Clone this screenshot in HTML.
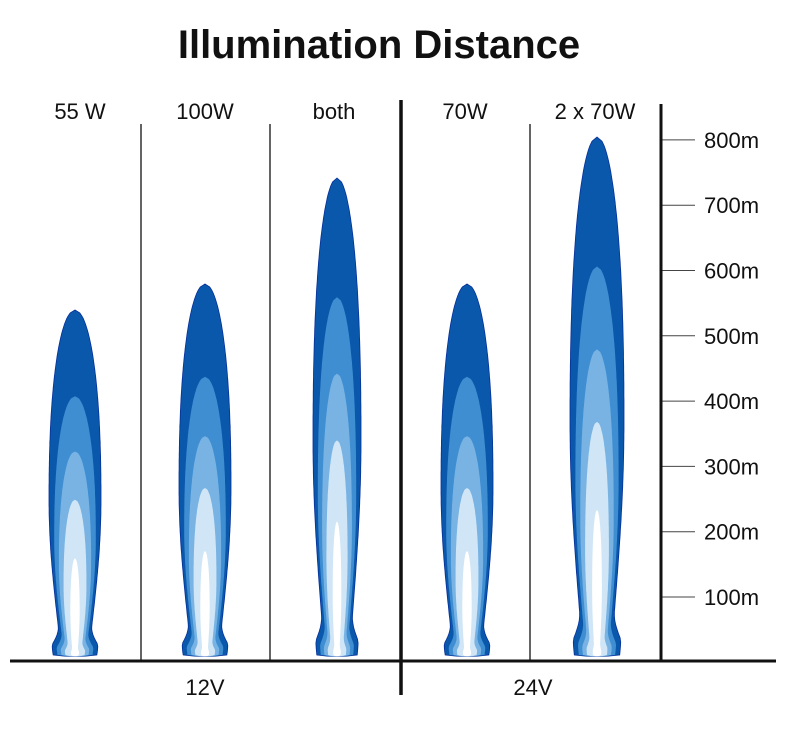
<!DOCTYPE html>
<html><head><style>
html,body{margin:0;padding:0;background:#fff;}
svg{display:block;font-family:"Liberation Sans",sans-serif;}
</style></head><body>
<svg id="s" width="800" height="732" viewBox="0 0 800 732">
<text x="379" y="58" font-size="40" font-weight="bold" text-anchor="middle" fill="#111">Illumination Distance</text>
<g font-size="22" fill="#111" text-anchor="middle">
<text x="80" y="119">55 W</text>
<text x="205" y="119">100W</text>
<text x="334" y="119">both</text>
<text x="465" y="119">70W</text>
<text x="595" y="119">2 x 70W</text>
<text x="205" y="695">12V</text>
<text x="533" y="695">24V</text>
</g>
<g stroke="#111" stroke-width="1.3">
<line x1="141" y1="124" x2="141" y2="661"/>
<line x1="270" y1="124" x2="270" y2="661"/>
<line x1="530" y1="124" x2="530" y2="661"/>
</g>
<g id="flames"></g>
<g id="ticks" stroke="#444" stroke-width="1"></g>
<g id="tl" font-size="22" fill="#111"></g>
<line x1="401" y1="100" x2="401" y2="695" stroke="#111" stroke-width="3.5"/>
<line x1="661" y1="104" x2="661" y2="661" stroke="#111" stroke-width="3"/>
<line x1="10" y1="661" x2="776" y2="661" stroke="#111" stroke-width="3"/>
</svg>
<script>
var NS="http://www.w3.org/2000/svg";
function hw(t){
 if(t<0.03){return 0.42+0.02*Math.sin(t/0.03*Math.PI/2);}
 if(t<0.08){var u=(t-0.03)/0.05;return 0.44-0.12*Math.sin(u*Math.PI/2);}
 if(t<0.45){var u=(t-0.08)/0.37;return 0.32+0.18*Math.sin(u*Math.PI/2);}
 var v=(t-0.45)/0.55;return 0.5*Math.pow(Math.max(0,1-Math.pow(v,2.3)),0.5);
}
function path(cx,bottom,len,W,f,k){
 var L=[],R=[];var N=120;
 for(var i=0;i<=N;i++){var t=i/N;var y=bottom-t*len*f;
  var w=(f<1?k:1)*W*hw(t);
  L.push([cx-w,y]);R.push([cx+w,y]);}
 var d="M"+L[0][0].toFixed(1)+","+(bottom)+" ";
 for(var i=0;i<=N;i++)d+="L"+L[i][0].toFixed(1)+","+L[i][1].toFixed(1)+" ";
 for(var i=N;i>=0;i--)d+="L"+R[i][0].toFixed(1)+","+R[i][1].toFixed(1)+" ";
 d+="Q"+cx+","+(bottom+3)+" "+L[0][0].toFixed(1)+","+bottom+"Z";
 return d;
}
var cols=["#0a58ab","#3f8ed2","#78b3e4","#d0e6f6","#ffffff"];
var layers=[[1,1],[0.75,0.8],[0.59,0.62],[0.45,0.44],[0.28,0.18]];
var flames=[[75,310,52],[205,284,52],[337,178,48],[467,284,52],[597,137,54]];
var g=document.getElementById("flames");
flames.forEach(function(fl){
 var bottom=655,len=bottom-fl[1];
 layers.forEach(function(l,i){
  var p=document.createElementNS(NS,"path");
  p.setAttribute("d",path(fl[0],bottom,len,fl[2],l[0],l[1]));
  p.setAttribute("fill",cols[i]);
  if(i==0){p.setAttribute("stroke","#06309a");p.setAttribute("stroke-width","0.8");}
  g.appendChild(p);
 });
});
var tk=document.getElementById("ticks"),tl=document.getElementById("tl");
for(var k=1;k<=8;k++){
 var y=597-(k-1)*65.3;
 var ln=document.createElementNS(NS,"line");
 ln.setAttribute("x1",661);ln.setAttribute("x2",695);ln.setAttribute("y1",y);ln.setAttribute("y2",y);
 tk.appendChild(ln);
 var tx=document.createElementNS(NS,"text");
 tx.setAttribute("x",704);tx.setAttribute("y",y+8);tx.textContent=(k*100)+"m";
 tl.appendChild(tx);
}
</script>
</body></html>
